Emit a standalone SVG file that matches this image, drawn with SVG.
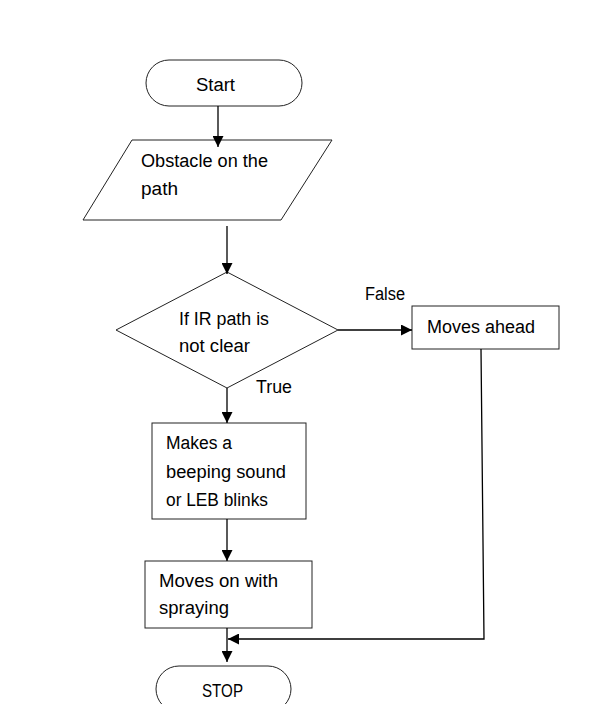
<svg xmlns="http://www.w3.org/2000/svg" width="598" height="704" viewBox="0 0 598 704">
<style>
.s{fill:#fff;stroke:#222;stroke-width:1}
.t{font-family:"Liberation Sans",Arial,sans-serif;font-size:18px;fill:#000}
.c{fill:none;stroke:#000;stroke-width:1.3}
</style>
<defs>
<marker id="a" viewBox="0 0 10 10" refX="10" refY="5" markerWidth="11" markerHeight="11" markerUnits="userSpaceOnUse" orient="auto">
<path d="M0,0 L10,5 L0,10 z" fill="#000"/>
</marker>
</defs>
<rect width="598" height="704" fill="#fff"/>
<g id="start"><rect class="s" x="146" y="60" width="156" height="46" rx="23"/><text class="t" x="196" y="91" textLength="39" lengthAdjust="spacingAndGlyphs">Start</text></g>
<g id="obstacle"><polygon class="s" points="132,140 332,140 281,220 83,220"/><text class="t" x="141" y="167" textLength="127" lengthAdjust="spacingAndGlyphs">Obstacle on the</text><text class="t" x="141" y="195" textLength="37" lengthAdjust="spacingAndGlyphs">path</text></g>
<g id="decision"><polygon class="s" points="227,272 338,330 227,388 116,330"/><text class="t" x="179" y="325" textLength="90" lengthAdjust="spacingAndGlyphs">If IR path is</text><text class="t" x="179" y="352" textLength="71" lengthAdjust="spacingAndGlyphs">not clear</text></g>
<g id="ahead"><rect class="s" x="412" y="306" width="147" height="43"/><text class="t" x="427" y="333" textLength="108" lengthAdjust="spacingAndGlyphs">Moves ahead</text></g>
<g id="beep"><rect class="s" x="152" y="423" width="154" height="96"/><text class="t" x="166" y="449" textLength="66" lengthAdjust="spacingAndGlyphs">Makes a</text><text class="t" x="166" y="478" textLength="120" lengthAdjust="spacingAndGlyphs">beeping sound</text><text class="t" x="166" y="506" textLength="102" lengthAdjust="spacingAndGlyphs">or LEB blinks</text></g>
<g id="spray"><rect class="s" x="145" y="561" width="167" height="67"/><text class="t" x="159" y="587" textLength="119" lengthAdjust="spacingAndGlyphs">Moves on with</text><text class="t" x="159" y="614" textLength="70" lengthAdjust="spacingAndGlyphs">spraying</text></g>
<g id="stop"><rect class="s" x="156" y="666" width="135" height="46" rx="23"/><text class="t" x="202" y="697" textLength="41" lengthAdjust="spacingAndGlyphs">STOP</text></g>
<g id="connectors">
<line class="c" x1="218" y1="106" x2="218" y2="147" marker-end="url(#a)"/>
<line class="c" x1="227" y1="226" x2="227" y2="274" marker-end="url(#a)"/>
<line class="c" x1="338" y1="330" x2="412" y2="330" marker-end="url(#a)"/>
<line class="c" x1="227" y1="388" x2="227" y2="423" marker-end="url(#a)"/>
<line class="c" x1="227" y1="519" x2="227" y2="561" marker-end="url(#a)"/>
<polyline class="c" points="481,349 484,639 228,639" marker-end="url(#a)"/>
<line class="c" x1="227" y1="628" x2="227" y2="662" marker-end="url(#a)"/>
<text class="t" x="365" y="300" textLength="40" lengthAdjust="spacingAndGlyphs">False</text>
<text class="t" x="256" y="393" textLength="36" lengthAdjust="spacingAndGlyphs">True</text>
</g>
</svg>
